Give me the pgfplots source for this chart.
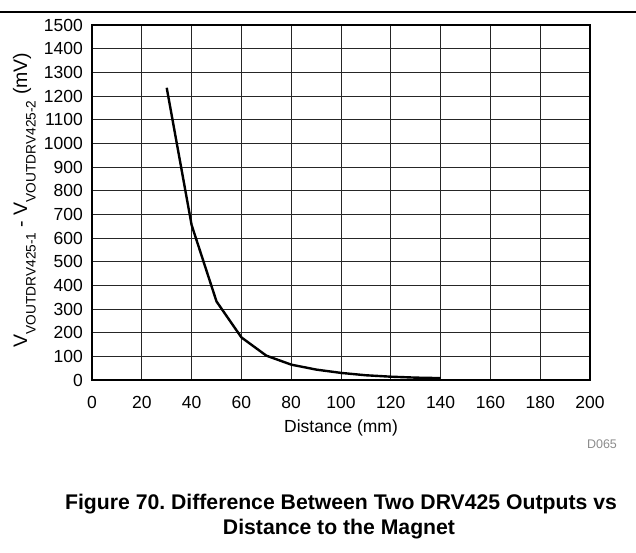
\documentclass[border=0pt]{standalone}
\usepackage{pgfplots}
\pgfplotsset{compat=1.18}
\usepackage{fontspec}
\setmainfont{Liberation Sans}
\newcommand{\sub}[1]{\raisebox{-8.5pt}{\fontsize{13.7}{15}\selectfont #1}}
\begin{document}
\begin{tikzpicture}[x=1pt,y=1pt]
\useasboundingbox (0,0) rectangle (636,552);
\draw[line width=1.4pt] (0,540) -- (636,540);
\begin{axis}[
  at={(92pt,172pt)}, anchor=south west,
  scale only axis, width=498pt, height=355pt,
  xmin=0, xmax=200, ymin=0, ymax=1500,
  xtick={0,20,...,200}, ytick={0,100,...,1500},
  grid=major,
  major grid style={black!85, line width=0.8pt},
  axis line style={line width=2.8pt},
  tick style={draw=none},
  ticklabel style={font=\fontsize{17.5}{20}\selectfont, inner sep=0pt},
  /pgf/number format/assume math mode=true,
  /pgf/number format/1000 sep={},
  xticklabel style={anchor=base, yshift=-28pt},
  yticklabel style={anchor=east, xshift=-9pt},
  xlabel={Distance (mm)},
  xlabel style={font=\fontsize{17.5}{20}\selectfont, inner sep=0pt, at={(axis description cs:0.5,0)}, anchor=base, yshift=-52.7pt},
  ylabel={V\sub{VOUTDRV425-1} - V\sub{VOUTDRV425-2} (mV)},
  ylabel style={font=\fontsize{19.5}{22}\selectfont, inner sep=0pt, at={(axis description cs:-0.1305,0.507)}, anchor=base},
  clip=false,
]
\addplot[black, line width=2.4pt, line join=round] coordinates {
(30,1235) (40,655) (50,332) (60,180) (70,103) (80,65) (90,44) (100,30)
(110,20) (120,14) (130,10) (140,8)
};
\end{axis}
\node[text=black!45, font=\fontsize{12.5}{14}\selectfont, anchor=base, inner sep=0pt] at (602,103.4) {D065};
\node[font=\fontsize{21.2}{23}\bfseries\selectfont, anchor=base, inner sep=0pt] at (341,43) {\frenchspacing Figure 70. Difference Between Two DRV425 Outputs vs};
\node[font=\fontsize{21.2}{23}\bfseries\selectfont, anchor=base, inner sep=0pt] at (339,18) {Distance to the Magnet};
\end{tikzpicture}
\end{document}
